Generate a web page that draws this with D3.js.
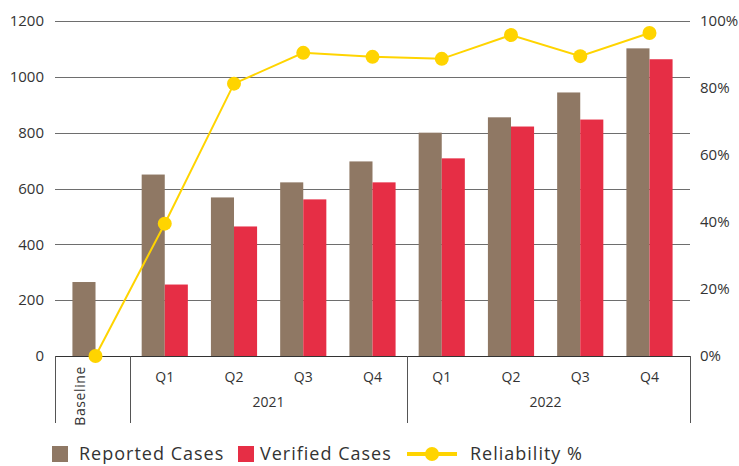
<!DOCTYPE html>
<html>
<head>
<meta charset="utf-8">
<script src="https://cdn.jsdelivr.net/npm/d3@7"></script>
<style>
  body { margin: 0; background: #fff; }
  text { font-family: "Open Sans", sans-serif; fill: #333; }
</style>
</head>
<body>
<div id="chart-area"></div>
<script>
// chart data
const categories = ["Baseline", "Q1 2021", "Q2 2021", "Q3 2021", "Q4 2021", "Q1 2022", "Q2 2022", "Q3 2022", "Q4 2022"];
const quarterLabels = ["Baseline", "Q1", "Q2", "Q3", "Q4", "Q1", "Q2", "Q3", "Q4"];
const reported = [265, 650, 568, 622, 697, 800, 855, 944, 1102];
const verified = [0, 256, 464, 561, 622, 708, 822, 847, 1063];
const reliability = [0, 39.5, 81.3, 90.5, 89.3, 88.7, 95.8, 89.5, 96.4];
const yearGroups = [
  { label: "2021", from: "Q1 2021", to: "Q4 2021" },
  { label: "2022", from: "Q1 2022", to: "Q4 2022" }
];
const leftTicks = [0, 200, 400, 600, 800, 1000, 1200];
const rightTicks = [0, 20, 40, 60, 80, 100];

const width = 739, height = 466;
const margin = { left: 55, right: 49, top: 21, bottom: 110 };
const innerW = width - margin.left - margin.right,
  innerH = height - margin.top - margin.bottom;

const colors = { reported: "#8f7864", verified: "#e62e45", line: "#ffd400" };

var svg = d3.select("#chart-area")
  .append("svg")
  .attr("width", width)
  .attr("height", height);

var g = svg.append("g")
  .attr("transform", `translate(${margin.left}, ${margin.top})`);

var x = d3.scaleBand()
  .domain(categories)
  .range([0, innerW])
  .paddingInner(0)
  .paddingOuter(0.085);

var x1 = d3.scaleBand()
  .domain(["reported", "verified"])
  .range([x.bandwidth() / 6, x.bandwidth() * 5 / 6]);

var y = d3.scaleLinear().domain([0, 1200]).range([innerH, 0]);
var y2 = d3.scaleLinear().domain([0, 100]).range([innerH, 0]);

// gridlines
g.append("g")
  .selectAll("line")
  .data(leftTicks.slice(1))
  .enter().append("line")
  .attr("x1", 0).attr("x2", innerW)
  .attr("y1", d => Math.round(y(d)) + 0.5)
  .attr("y2", d => Math.round(y(d)) + 0.5)
  .attr("stroke", "#6e6e6e")
  .attr("stroke-width", 1);

// left axis labels
g.append("g")
  .selectAll("text")
  .data(leftTicks)
  .enter().append("text")
  .attr("x", -11)
  .attr("y", d => y(d))
  .attr("dy", "0.35em")
  .attr("text-anchor", "end")
  .attr("font-size", "15px")
  .text(d => d);

// right axis labels
g.append("g")
  .selectAll("text")
  .data(rightTicks)
  .enter().append("text")
  .attr("x", innerW + 10)
  .attr("y", d => y2(d))
  .attr("dy", "0.35em")
  .attr("font-size", "15px")
  .text(d => d + "%");

// bars
var groups = g.append("g")
  .selectAll("g")
  .data(categories)
  .enter().append("g")
  .attr("transform", d => `translate(${x(d)}, 0)`);

groups.append("rect")
  .attr("x", x1("reported"))
  .attr("width", x1.bandwidth())
  .attr("y", (d, i) => y(reported[i]))
  .attr("height", (d, i) => innerH - y(reported[i]))
  .attr("fill", colors.reported);

groups.append("rect")
  .attr("x", x1("verified"))
  .attr("width", x1.bandwidth())
  .attr("y", (d, i) => y(verified[i]))
  .attr("height", (d, i) => innerH - y(verified[i]))
  .attr("fill", colors.verified);

// x axis line and separators
const sepColor = "#555";
g.append("line")
  .attr("x1", 0).attr("x2", innerW)
  .attr("y1", innerH + 0.5).attr("y2", innerH + 0.5)
  .attr("stroke", "#333");

var sepX = [0, x("Q1 2021"), x("Q1 2022"), innerW];
g.append("g")
  .selectAll("line")
  .data(sepX)
  .enter().append("line")
  .attr("x1", d => Math.round(d) + 0.5)
  .attr("x2", d => Math.round(d) + 0.5)
  .attr("y1", innerH)
  .attr("y2", innerH + 67)
  .attr("stroke", sepColor);

// quarter labels
g.append("g")
  .selectAll("text")
  .data(categories.slice(1))
  .enter().append("text")
  .attr("x", d => x(d) + x.bandwidth() / 2)
  .attr("y", innerH + 26)
  .attr("text-anchor", "middle")
  .attr("font-size", "14px")
  .text((d, i) => quarterLabels[i + 1]);

g.append("text")
  .attr("transform", `translate(${x("Baseline") + x.bandwidth() / 2 - 11}, ${innerH + 10}) rotate(-90)`)
  .attr("text-anchor", "end")
  .attr("font-size", "14px")
  .attr("letter-spacing", "0.6px")
  .text(quarterLabels[0]);

// year labels
g.append("g")
  .selectAll("text")
  .data(yearGroups)
  .enter().append("text")
  .attr("x", d => (x(d.from) + x(d.to) + x.bandwidth()) / 2)
  .attr("y", innerH + 51)
  .attr("text-anchor", "middle")
  .attr("font-size", "14px")
  .text(d => d.label);

// reliability line
var line = d3.line()
  .x((d, i) => x(categories[i]) + x.bandwidth() / 2)
  .y(d => y2(d));

g.append("path")
  .datum(reliability)
  .attr("d", line)
  .attr("fill", "none")
  .attr("stroke", colors.line)
  .attr("stroke-width", 2);

g.append("g")
  .selectAll("circle")
  .data(reliability)
  .enter().append("circle")
  .attr("cx", (d, i) => x(categories[i]) + x.bandwidth() / 2)
  .attr("cy", d => y2(d))
  .attr("r", 7)
  .attr("fill", colors.line);

// legend
var legend = svg.append("g").attr("transform", "translate(0, 454)");

legend.append("rect").attr("x", 52).attr("y", -8).attr("width", 16).attr("height", 16).attr("fill", colors.reported);
legend.append("text").attr("x", 79).attr("dy", "0.35em").attr("font-size", "18px").attr("letter-spacing", "1px").text("Reported Cases");

legend.append("rect").attr("x", 238).attr("y", -8).attr("width", 16).attr("height", 16).attr("fill", colors.verified);
legend.append("text").attr("x", 260).attr("dy", "0.35em").attr("font-size", "18px").attr("letter-spacing", "1px").text("Verified Cases");

legend.append("line").attr("x1", 407).attr("x2", 457).attr("stroke", colors.line).attr("stroke-width", 4);
legend.append("circle").attr("cx", 432).attr("r", 7).attr("fill", colors.line);
legend.append("text").attr("x", 470).attr("dy", "0.35em").attr("font-size", "18px").attr("letter-spacing", "1px").text("Reliability %");
</script>
</body>
</html>
